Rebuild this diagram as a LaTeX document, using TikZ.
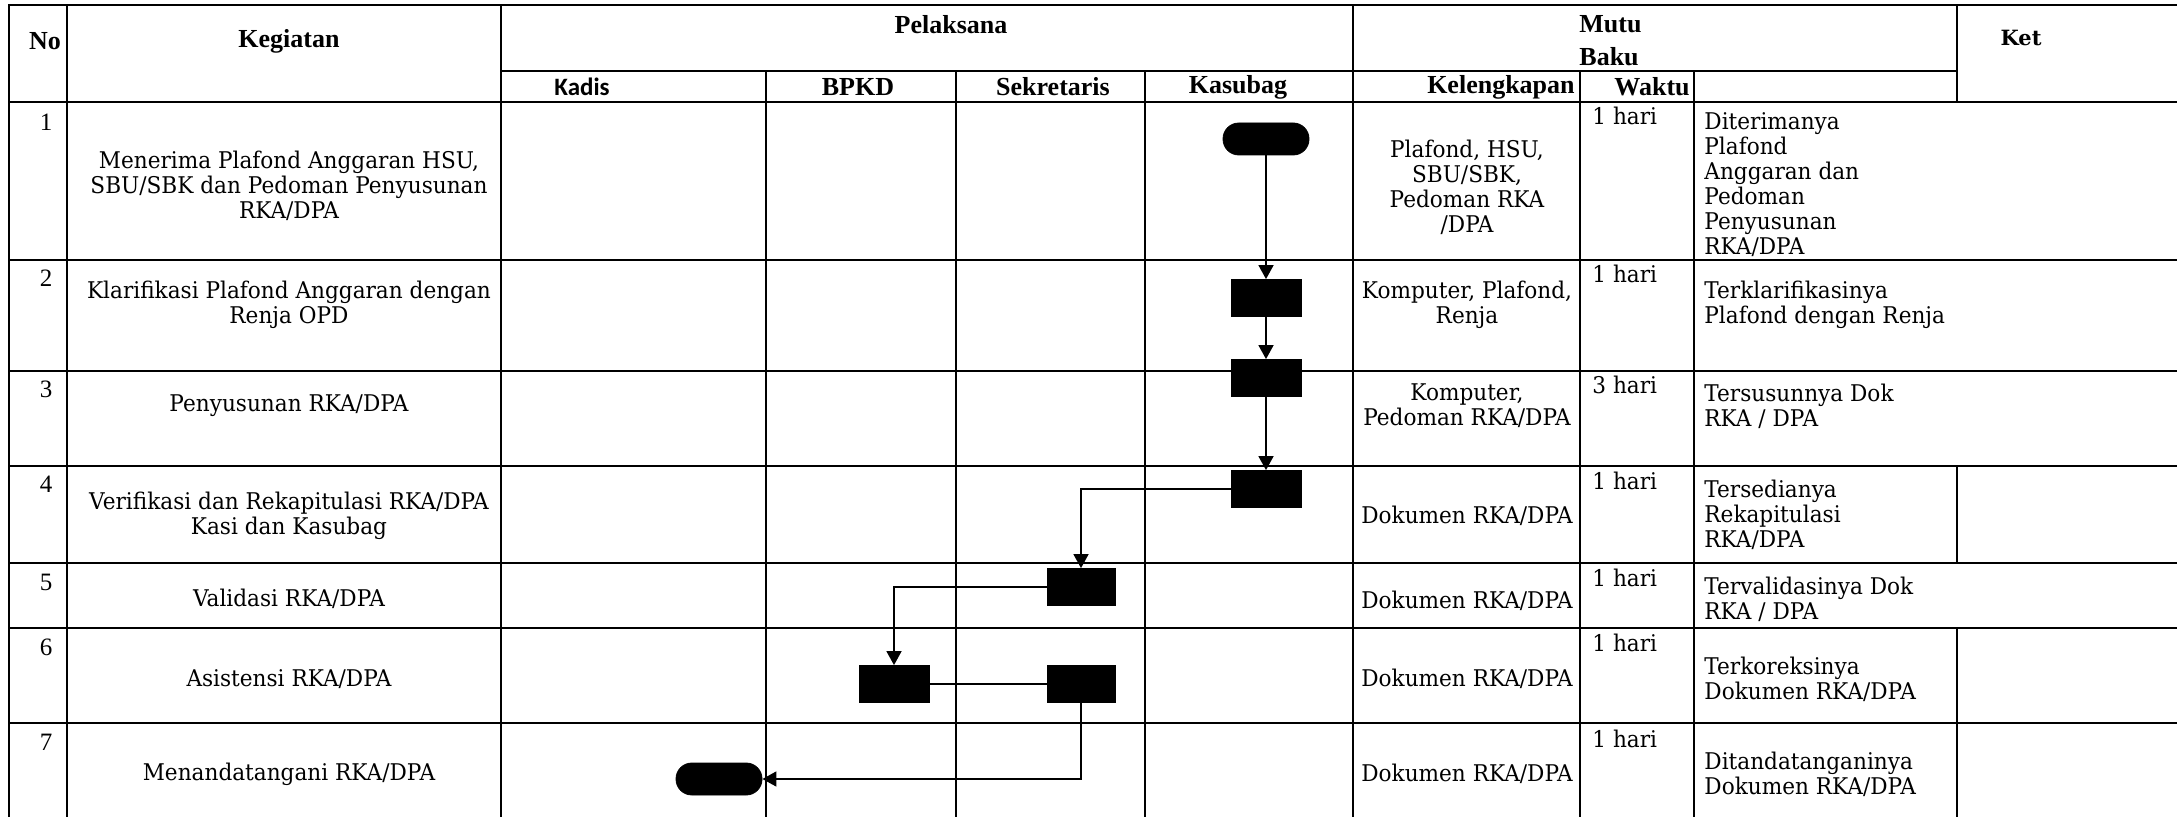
\documentclass[tikz,border=0pt]{standalone}
\usepackage{fontspec}
\setmainfont{Liberation Serif}
\newfontfamily\bkfont[FakeStretch=0.94]{DejaVu Serif}
\newfontfamily\bkhead{DejaVu Serif}
\newfontfamily\calfont{Carlito}
\usetikzlibrary{arrows.meta}
\tikzset{
  gridline/.style={line width=1.35pt, line cap=rect},
  body/.style={font=\bkfont\fontsize{11.5}{12.5}\selectfont, inner sep=0pt},
  bodyc/.style={body, align=center},
  bodyl/.style={body, align=left, anchor=west},
  hdr/.style={font=\bfseries\fontsize{13}{15}\selectfont, inner sep=0pt},
  num/.style={font=\fontsize{12.5}{14}\selectfont, inner sep=0pt},
  blk/.style={fill=black, draw=black, minimum width=35pt, minimum height=18.5pt, inner sep=0pt},
  term/.style={fill=black, draw=black, minimum width=43pt, minimum height=16pt, rounded corners=7.9pt, inner sep=0pt},
  flow/.style={line width=0.8pt, -{Triangle[length=7pt,width=7.5pt]}},
  plain/.style={line width=0.8pt}
}
\begin{document}
\begin{tikzpicture}[x=0.5pt,y=-0.5pt]
\useasboundingbox (0,0) rectangle (2177,817);
% ---------- grid ----------
\foreach \yy in {5,102,260,371,466,563,628,723}
  \draw[gridline] (9,\yy) -- (2177,\yy);
\draw[gridline] (501,71) -- (1957,71);
\foreach \xx in {9,67,501,1353}
  \draw[gridline] (\xx,5) -- (\xx,817);
\foreach \xx in {766,956,1145,1580,1694}
  \draw[gridline] (\xx,71) -- (\xx,817);
\draw[gridline] (1957,5) -- (1957,102);
\draw[gridline] (1957,466) -- (1957,563);
\draw[gridline] (1957,628) -- (1957,817);
% ---------- header ----------
\node[hdr] (hNo) at (45,41) {No};
\node[hdr] (hKeg) at (289,41) {Kegiatan};
\node[hdr] (hPel) at (951,25) {Pelaksana};
\node[hdr, anchor=west] (hMutu) at (1579,24) {Mutu};
\node[hdr, anchor=west] (hBaku) at (1579,57) {Baku};
\node[font=\bkhead\bfseries\fontsize{10.5}{12}\selectfont, inner sep=0pt] (hKet) at (2021,38) {Ket};
\node[font=\calfont\bfseries\fontsize{12.5}{14}\selectfont, inner sep=0pt] (hKadis) at (582,87) {Kadis};
\node[hdr] (hBPKD) at (858,87) {BPKD};
\node[hdr] (hSek) at (1053,87) {Sekretaris};
\node[hdr] (hKas) at (1238,87) {Kasubag};
\node[hdr, anchor=east] (hKel) at (1575,87) {Kelengkapan};
\node[hdr, anchor=east] (hWak) at (1690,87) {Waktu};
% ---------- numbers ----------
\node[num] (n1) at (46,122) {1};
\node[num] (n2) at (46,278) {2};
\node[num] (n3) at (46,389) {3};
\node[num] (n4) at (46,484) {4};
\node[num] (n5) at (46,582) {5};
\node[num] (n6) at (46,647) {6};
\node[num] (n7) at (46,742) {7};
% ---------- kegiatan ----------
\node[bodyc] (k1) at (289,186) {Menerima Plafond Anggaran HSU,\\SBU/SBK dan Pedoman Penyusunan\\RKA/DPA};
\node[bodyc] (k2) at (289,305) {Klarifikasi Plafond Anggaran dengan\\Renja OPD};
\node[bodyc] (k3) at (289,406) {Penyusunan RKA/DPA};
\node[bodyc] (k4) at (289,516) {Verifikasi dan Rekapitulasi RKA/DPA\\Kasi dan Kasubag};
\node[bodyc] (k5) at (289,599) {Validasi RKA/DPA};
\node[bodyc] (k6) at (289,679) {Asistensi RKA/DPA};
\node[bodyc] (k7) at (289,774) {Menandatangani RKA/DPA};
% ---------- kelengkapan ----------
\node[bodyc] (l1) at (1467,187) {Plafond, HSU,\\SBU/SBK,\\Pedoman RKA\\/DPA};
\node[bodyc] (l2) at (1467,305) {Komputer, Plafond,\\Renja};
\node[bodyc] (l3) at (1467,406) {Komputer,\\Pedoman RKA/DPA};
\node[bodyc] (l4) at (1467,516) {Dokumen RKA/DPA};
\node[bodyc] (l5) at (1467,601) {Dokumen RKA/DPA};
\node[bodyc] (l6) at (1467,679) {Dokumen RKA/DPA};
\node[bodyc] (l7) at (1467,774) {Dokumen RKA/DPA};
% ---------- waktu ----------
\node[bodyl] (w1) at (1592,116) {1 hari};
\node[bodyl] (w2) at (1592,274) {1 hari};
\node[bodyl] (w3) at (1592,385) {3 hari};
\node[bodyl] (w4) at (1592,481) {1 hari};
\node[bodyl] (w5) at (1592,578) {1 hari};
\node[bodyl] (w6) at (1592,643) {1 hari};
\node[bodyl] (w7) at (1592,739) {1 hari};
% ---------- hasil ----------
\node[bodyl] (r1) at (1704,185) {Diterimanya\\Plafond\\Anggaran dan\\Pedoman\\Penyusunan\\RKA/DPA};
\node[bodyl] (r2) at (1704,305) {Terklarifikasinya\\Plafond dengan Renja};
\node[bodyl] (r3) at (1704,406) {Tersusunnya Dok\\RKA / DPA};
\node[bodyl] (r4) at (1704,515) {Tersedianya\\Rekapitulasi\\RKA/DPA};
\node[bodyl] (r5) at (1704,599) {Tervalidasinya Dok\\RKA / DPA};
\node[bodyl] (r6) at (1704,679) {Terkoreksinya\\Dokumen RKA/DPA};
\node[bodyl] (r7) at (1704,774) {Ditandatanganinya\\Dokumen RKA/DPA};
% ---------- flow ----------
\node[term] (s1) at (1266,139) {};
\node[blk] (b2) at (1266,298) {};
\node[blk] (b3) at (1266,378) {};
\node[blk] (b4) at (1266,489) {};
\node[blk, minimum width=34pt] (b5) at (1081,587) {};
\node[blk] (b6a) at (894,684) {};
\node[blk, minimum width=34pt] (b6b) at (1081,684) {};
\node[term] (e7) at (719,779) {};
\draw[flow] (s1) -- (b2);
\draw[flow] (b2) -- (b3);
\draw[flow] (b3) -- (b4);
\draw[flow] (b4.west) -| (b5.north);
\draw[flow] (b5.west) -| (b6a.north);
\draw[plain] (b6a) -- (b6b);
\draw[flow] (b6b.south) |- (e7.east);
\end{tikzpicture}
\end{document}
